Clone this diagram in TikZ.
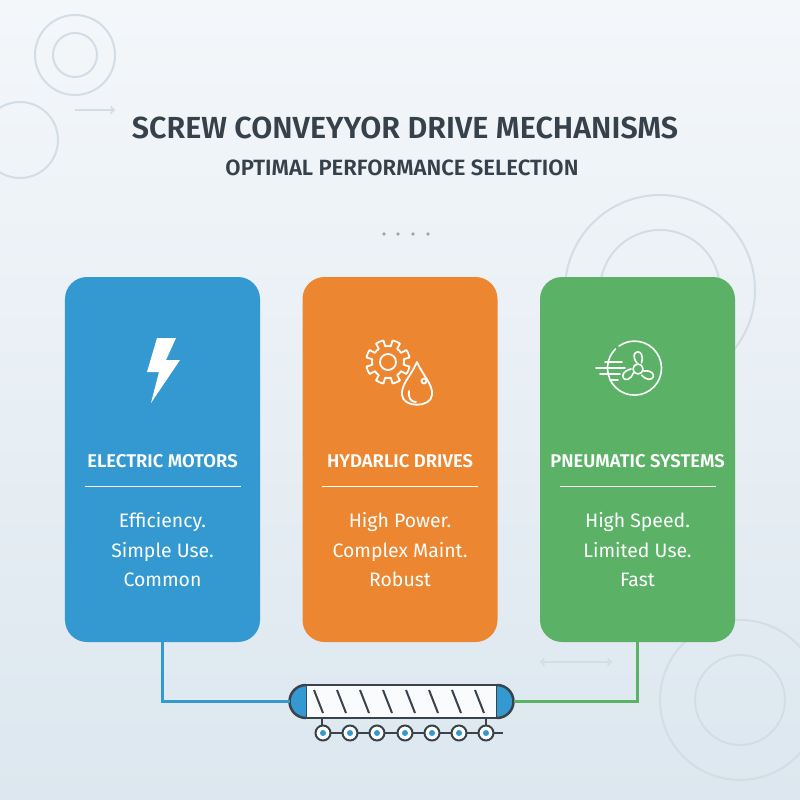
\documentclass[tikz,border=0pt]{standalone}
\usepackage{fontspec}
\setmainfont{Fira Sans}
\newfontfamily\hfont{Fira Sans SemiBold}
\usetikzlibrary{calc}
\definecolor{cblue}{HTML}{3399D0}
\definecolor{corange}{HTML}{EC8630}
\definecolor{cgreen}{HTML}{5BB266}
\definecolor{ctext}{HTML}{37414B}
\definecolor{cline}{HTML}{3A434C}
\definecolor{bgA}{HTML}{F4F7FA}
\definecolor{bgB}{HTML}{DCE7EF}
\definecolor{faint}{HTML}{D2DDE6}
\tikzset{
 card/.style={rounded corners=22bp, minimum width=195bp, minimum height=365bp, inner sep=0},
 head/.style={text=white, font=\hfont\fontsize{18.5}{20}\selectfont},
 body/.style={text=white, align=center, font=\fontsize{19.5}{29.5}\selectfont},
 icon/.style={white, line width=2bp, line cap=round, line join=round},
 roller/.style={circle, draw=cline, line width=2bp, fill=white, minimum size=15bp, inner sep=0},
 gearbg/.style={faint, line width=2bp}
}
\begin{document}
\begin{tikzpicture}[x=1bp,y=-1bp]
\shade[top color=bgA, bottom color=bgB] (0,0) rectangle (800,800);
\useasboundingbox (0,0) rectangle (800,800);
% faint background gears
\draw[gearbg] (75,55) circle (40) (75,55) circle (22);
\draw[gearbg] (20,140) circle (38);
\draw[gearbg] (660,290) circle (95) (660,290) circle (60);
\draw[gearbg] (740,700) circle (80) (740,700) circle (45);
\draw[gearbg,->] (75,110) -- (115,110);
\draw[gearbg,<->] (540,662) -- (612,662);
% titles
\node[text=ctext] (title) at (405,128) {\resizebox{546bp}{!}{\hfont SCREW CONVEYYOR DRIVE MECHANISMS}};
\node[text=ctext] (sub) at (402,168) {\resizebox{353bp}{!}{\hfont OPTIMAL PERFORMANCE SELECTION}};
\foreach \x [count=\i] in {384,398,413,428} \fill[gray!70] (\x,234) circle (1.8);
% cards
\node[card, fill=cblue] (c1) at (162.5,459.5) {};
\node[card, fill=corange] (c2) at (400,459.5) {};
\node[card, fill=cgreen] (c3) at (637.5,459.5) {};
\foreach \c/\t/\b in {c1/ELECTRIC MOTORS/{Efficiency.\\Simple Use.\\Common},
                      c2/HYDARLIC DRIVES/{High Power.\\Complex Maint.\\Robust},
                      c3/PNEUMATIC SYSTEMS/{High Speed.\\Limited Use.\\Fast}}{
  \node[head] (\c h) at ($(\c.north)+(0,184)$) {\t};
  \draw[white, line width=1.2bp] ($(\c.north)+(-78,210)$) -- ($(\c.north)+(78,210)$);
  \node[body] (\c b) at ($(\c.north)+(0,273)$) {\b};
}
% icon 1: lightning
\fill[white] (157,338) -- (176,338) -- (166,360) -- (180,360) -- (151,403) -- (159,372) -- (147,372) -- cycle;
% icon 2: gear + drop
\begin{scope}[icon, line width=1.8bp, shift={(388,362)}]
 \draw (0,0) circle (8);
 \draw (0:16)
  \foreach \a in {0,45,...,315}{
    arc[start angle=\a, end angle=\a+10, radius=16] -- (\a+12:22) arc[start angle=\a+12, end angle=\a+33, radius=22] -- (\a+35:16) arc[start angle=\a+35, end angle=\a+45, radius=16]
  } -- cycle;
\end{scope}
\begin{scope}[icon, line width=1.8bp]
 \fill[corange] (417,362) .. controls (411,376) and (401,384) .. (402,395) .. controls (403,408) and (431,408) .. (432,395) .. controls (433,384) and (423,376) .. (417,362);
 \draw (417,362) .. controls (411,376) and (401,384) .. (402,395) .. controls (403,408) and (431,408) .. (432,395) .. controls (433,384) and (423,376) .. (417,362);
 \draw (424,381) circle (2.5);
 \draw (409,391) .. controls (408,398) and (411,402) .. (416,402);
\end{scope}
% icon 3: fan
\begin{scope}[icon, line width=1.6bp]
 \draw (619,346) arc (-125:225:27);
 \draw (638,369) circle (5);
 \foreach \a in {20,140,260}{
   \draw ($(638,369)+(\a:6)$) .. controls ($(638,369)+(\a-20:22)$) and ($(638,369)+(\a+30:24)$) .. ($(638,369)+(\a+40:7)$);
 }
 \draw (596,368) -- (625,368) (600,374) -- (620,374) (605,362) -- (622,362) (610,380) -- (618,380);
\end{scope}
% conveyor
\node[draw=cline, line width=2.5bp, fill=white!85!bgB, minimum width=191bp, minimum height=33bp, inner sep=0] (tube) at (401.5,701.5) {};
\fill[cblue] (306,685) arc (-90:-270:16.5) -- cycle;
\fill[cblue] (497,685) arc (-90:90:16.5) -- cycle;
\draw[cline, line width=2.5bp] (306,685) arc (-90:-270:16.5) (497,685) arc (-90:90:16.5);
\foreach \x in {313,336,359,382,405,428,451,474}
  \draw[cline, line width=2bp] (\x+1,690) -- (\x+10,713);
\draw[cline, line width=2bp] (322,718) -- (322,728) (486,718) -- (486,728);
\draw[cline, line width=2bp] (318,733) -- (503,733);
\foreach \x [count=\i] in {323,350,377,405,432,459,486}{
  \node[roller] (r\i) at (\x,733) {};
  \fill[cblue] (\x,733) circle (3);
}
% connectors
\draw[cblue, line width=2.5bp] (c1.south) |- (289.5,701.5);
\draw[cgreen, line width=2.5bp] (c3.south) |- (513.5,701.5);
\end{tikzpicture}
\end{document}
